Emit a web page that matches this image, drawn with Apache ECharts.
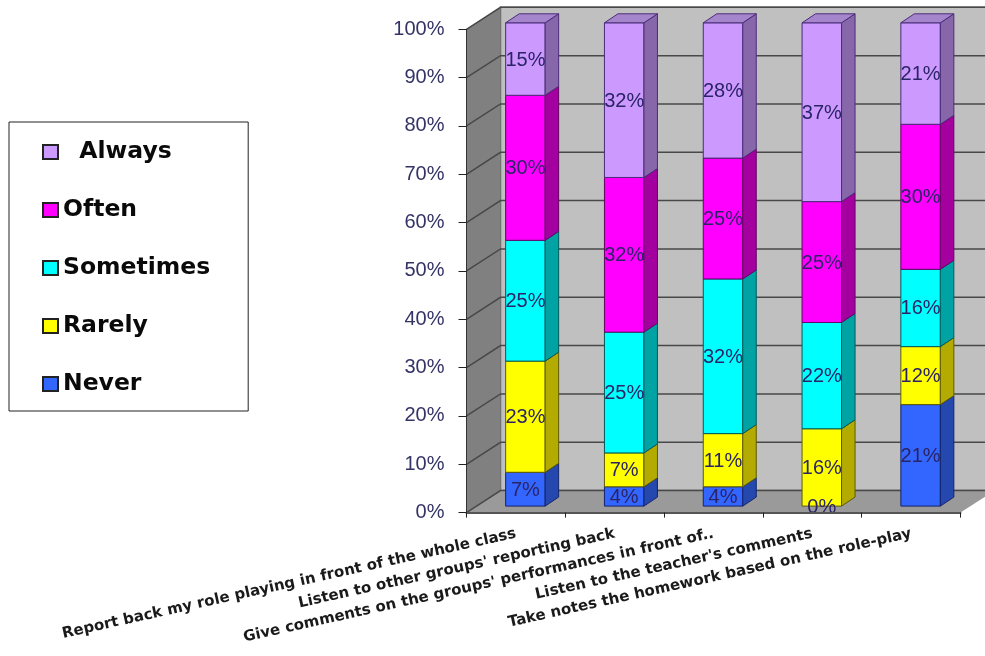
<!DOCTYPE html>
<html>
<head>
<meta charset="utf-8">
<style>html,body{margin:0;padding:0;background:#fff}#c{width:985px;height:656px}</style>
<script src="https://cdn.jsdelivr.net/npm/echarts@6/dist/echarts.min.js"></script>
</head>
<body>
<div id="c"></div>
<script>
const categories = [
  "Report back my role playing in front of the whole class",
  "Listen to other groups' reporting back",
  "Give comments on the groups' performances in front of..",
  "Listen to the teacher's comments",
  "Take notes the homework based on the role-play"
];
const never = [7, 4, 4, 0, 21];
const rarely = [23, 7, 11, 16, 12];
const sometimes = [25, 25, 32, 22, 16];
const often = [30, 32, 25, 25, 30];
const always = [15, 32, 28, 37, 21];
const yTicks = [0, 10, 20, 30, 40, 50, 60, 70, 80, 90, 100];
const stackNames = ["Never", "Rarely", "Sometimes", "Often", "Always"];
const stackValues = [never, rarely, sometimes, often, always];
const frontColors = ["#3366FF", "#FFFF00", "#00FFFF", "#FF00FF", "#CC99FF"];
const sideColors = ["#2448AD", "#B3AB00", "#00A3A3", "#A3009F", "#8766AA"];
const edgeColors = ["#14246B", "#5F5A00", "#005A5A", "#650065", "#4A2D7A"];
const topColor = "#A585CC";
const legendOrder = ["Always", "Often", "Sometimes", "Rarely", "Never"];

const DX = 34, DY = -22;          // depth of the floor
const BAR_DX = 9.5, BAR_DY = -6.5; // front of the bars inside the depth
const SIDE_DX = 13.5, SIDE_DY = -9; // depth of one bar
const BAR_W = 39.5;

function poly(points, fill, stroke, lineWidth) {
  return { type: "polygon", shape: { points },
    style: { fill, stroke: stroke || "none", lineWidth: lineWidth || 0 } };
}

const wallSeries = {
  type: "custom", coordinateSystem: "cartesian2d", silent: true, clip: false, z: 1,
  data: [[0, 0]],
  renderItem(params, api) {
    const g = params.coordSys, L = g.x, R = g.x + g.width;
    const y0 = api.coord([0, 0])[1], y1 = api.coord([0, 100])[1];
    return { type: "group", children: [
      poly([[L + DX, y1 + DY], [R + DX, y1 + DY], [R + DX, y0 + DY], [L + DX, y0 + DY]], "#C0C0C0", "#666", 1.5),
      poly([[L, y1], [L + DX, y1 + DY], [L + DX, y0 + DY], [L, y0]], "#808080"),
      poly([[L, y0], [L + DX, y0 + DY], [R + DX, y0 + DY], [R, y0]], "#9A9A9A")
    ]};
  }
};

const gridSeries = {
  type: "custom", coordinateSystem: "cartesian2d", silent: true, clip: false, z: 1,
  data: yTicks.map(v => [0, v]),
  renderItem(params, api) {
    const g = params.coordSys, L = g.x, R = g.x + g.width;
    const y = api.coord([0, api.value(1)])[1];
    return { type: "polyline", z2: 5,
      shape: { points: [[L, y], [L + DX, y + DY], [R + DX, y + DY]] },
      style: { fill: "none", stroke: "#484848", lineWidth: 1.5 } };
  }
};

const barSeries = stackNames.map((name, s) => ({
  name, type: "custom", coordinateSystem: "cartesian2d", silent: true, clip: false, z: 2,
  itemStyle: { color: frontColors[s], borderColor: "#222", borderWidth: 1 },
  data: categories.map((c, i) => {
    let base = 0;
    for (let k = 0; k < s; k++) base += stackValues[k][i];
    return [i, base, base + stackValues[s][i], stackValues[s][i]];
  }),
  renderItem(params, api) {
    const i = api.value(0), lo = api.value(1), hi = api.value(2), val = api.value(3);
    const p0 = api.coord([i, lo]), p1 = api.coord([i, hi]);
    const l = p0[0] + BAR_DX - BAR_W / 2, r = l + BAR_W;
    const yb = p0[1] + BAR_DY, yt = p1[1] + BAR_DY;
    const children = [];
    if (val > 0) {
      children.push(
        poly([[l, yb], [r, yb], [r, yt], [l, yt]], frontColors[s], edgeColors[s], 1),
        poly([[r, yb], [r + SIDE_DX, yb + SIDE_DY], [r + SIDE_DX, yt + SIDE_DY], [r, yt]], sideColors[s], edgeColors[s], 1)
      );
      if (hi >= 100) {
        children.push(poly([[l, yt], [r, yt], [r + SIDE_DX, yt + SIDE_DY], [l + SIDE_DX, yt + SIDE_DY]], topColor, edgeColors[s], 1));
      }
    }
    children.push({ type: "text", z2: 100, x: (l + r) / 2, y: (yb + yt) / 2 + 1,
      style: { text: val + "%", fill: "#2a2466", font: '20px "Liberation Sans", Arial, sans-serif',
        align: "center", verticalAlign: "middle" } });
    return { type: "group", children };
  }
}));

const chart = echarts.init(document.getElementById("c"), null, { renderer: "canvas" });
chart.setOption({
  animation: false,
  backgroundColor: "#fff",
  grid: { left: 466.5, top: 29.3, width: 494, height: 483.3, containLabel: false },
  legend: {
    orient: "vertical", left: 9, top: 122, icon: "rect",
    data: legendOrder,
    itemWidth: 15, itemHeight: 14, itemGap: 34,
    padding: [18, 38, 15, 33],
    borderColor: "#222", borderWidth: 1, backgroundColor: "#fff",
    formatter: n => (n === "Always" ? "  " + n : n),
    textStyle: { color: "#0a0a0a", fontWeight: "bold", fontSize: 23.5, fontFamily: '"DejaVu Sans", sans-serif' }
  },
  xAxis: {
    type: "category", data: categories, z: 5,
    axisLine: { show: true, lineStyle: { color: "#555", width: 2 } },
    axisTick: { show: true, length: 5, lineStyle: { color: "#222" } },
    axisLabel: { interval: 0, rotate: 12.5, margin: 21, hideOverlap: false, color: "#1a1a1a",
      fontWeight: "bold", fontSize: 15, fontFamily: '"DejaVu Sans", sans-serif' },
    splitLine: { show: false }
  },
  yAxis: {
    type: "value", min: 0, max: 100, interval: 10, z: 5,
    axisLine: { show: true, lineStyle: { color: "#333" } },
    axisTick: { show: true, length: 8, lineStyle: { color: "#222" } },
    axisLabel: { formatter: "{value}%", margin: 22, color: "#333366", fontSize: 20,
      fontFamily: '"Liberation Sans", Arial, sans-serif' },
    splitLine: { show: false }
  },
  series: [wallSeries, gridSeries].concat(barSeries)
});
</script>
</body>
</html>
